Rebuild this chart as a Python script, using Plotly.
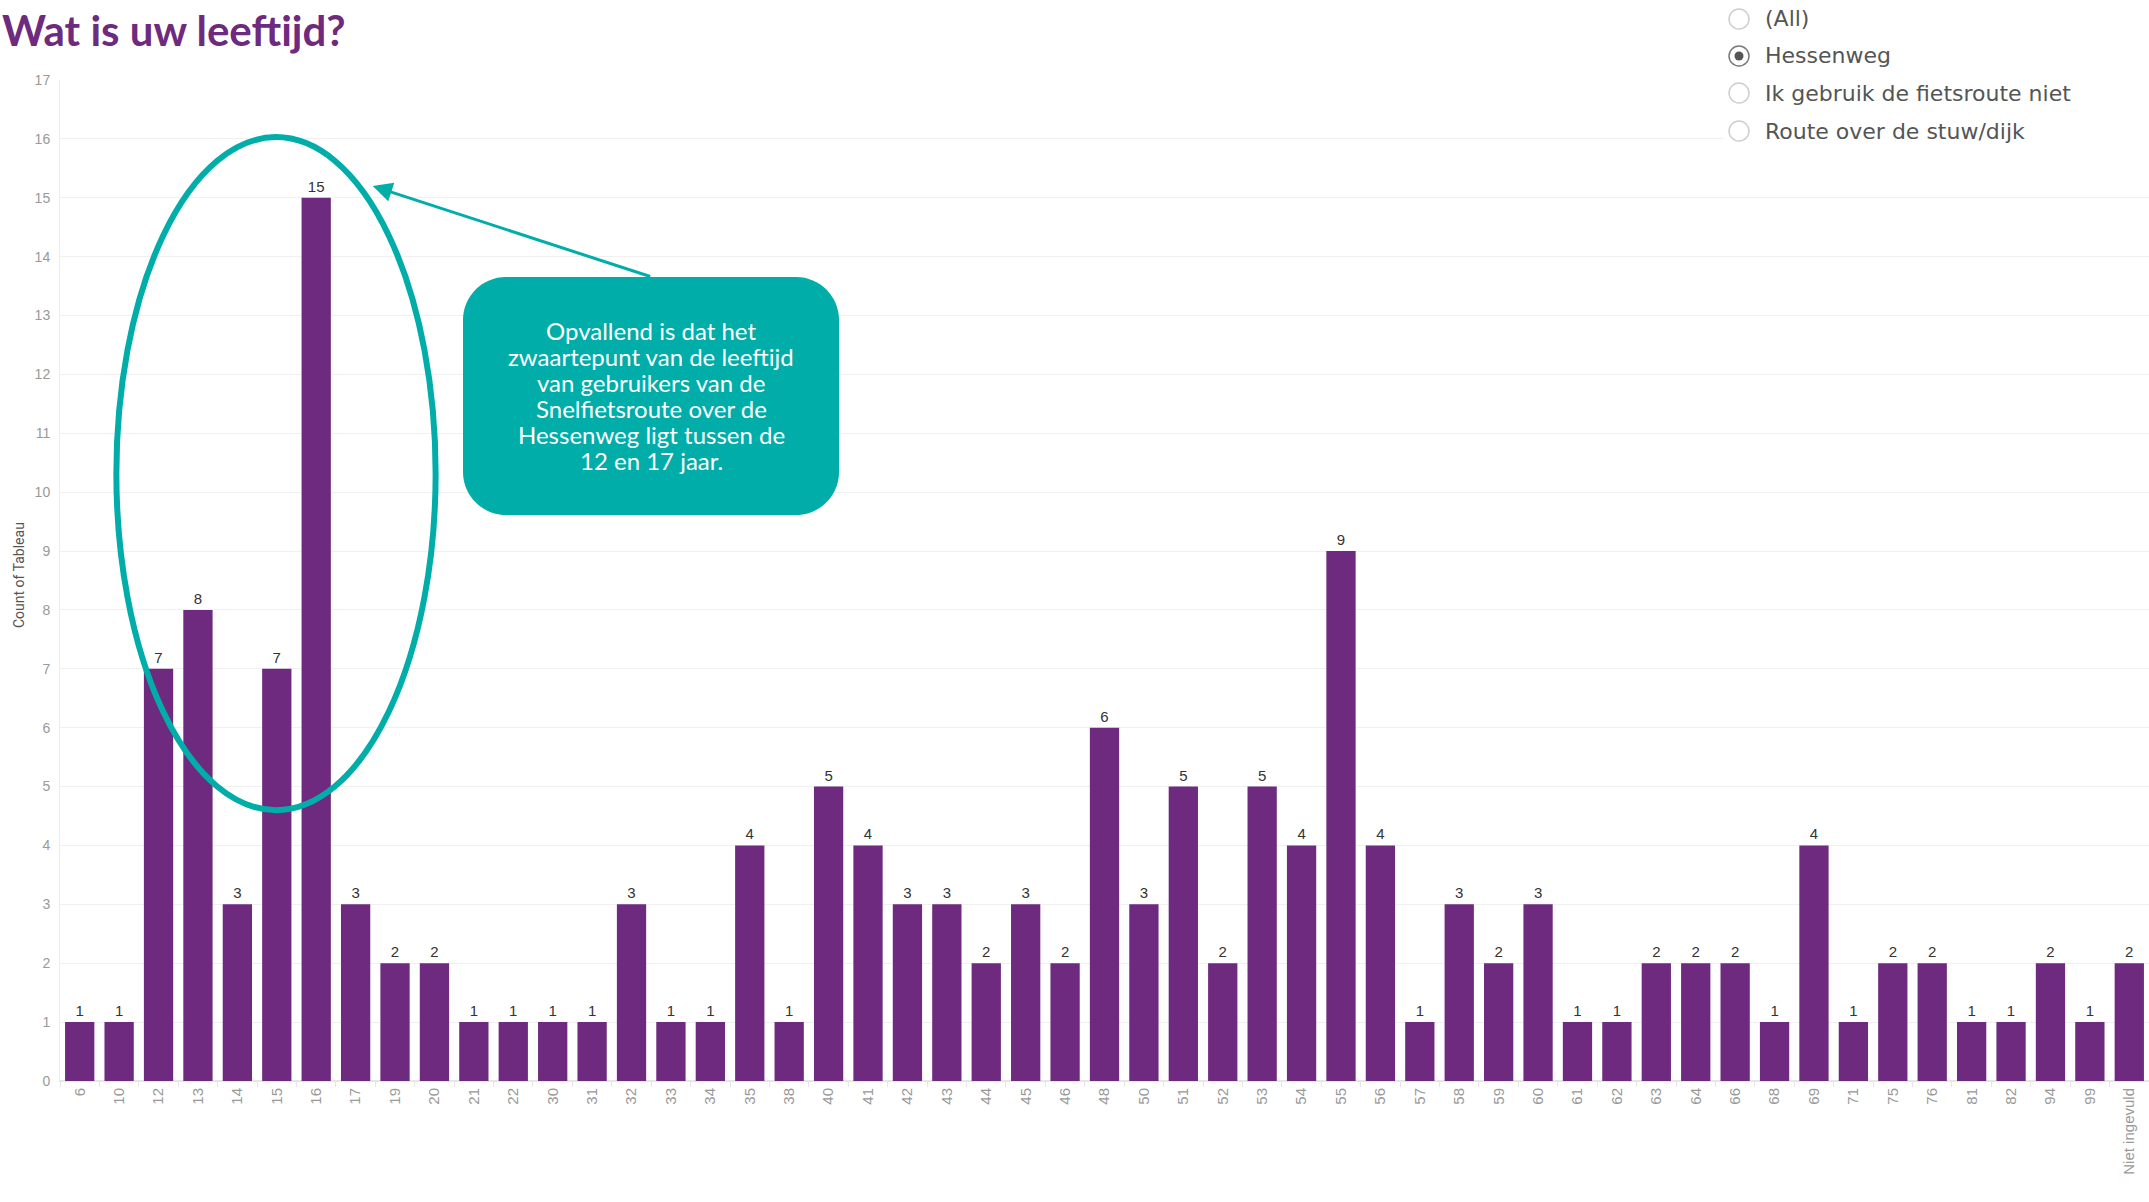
import plotly.graph_objects as go

# ---- data ----
ages = ["6", "10", "12", "13", "14", "15", "16", "17", "19", "20", "21", "22", "30", "31",
        "32", "33", "34", "35", "38", "40", "41", "42", "43", "44", "45", "46", "48", "50",
        "51", "52", "53", "54", "55", "56", "57", "58", "59", "60", "61", "62", "63", "64",
        "66", "68", "69", "71", "75", "76", "81", "82", "94", "99", "Niet ingevuld"]
counts = [1, 1, 7, 8, 3, 7, 15, 3, 2, 2, 1, 1, 1, 1,
          3, 1, 1, 4, 1, 5, 4, 3, 3, 2, 3, 2, 6, 3,
          5, 2, 5, 4, 9, 4, 1, 3, 2, 3, 1, 1, 2, 2,
          2, 1, 4, 1, 2, 2, 1, 1, 2, 1, 2]
y_ticks = list(range(0, 18))
filter_options = ["(All)", "Hessenweg", "Ik gebruik de fietsroute niet", "Route over de stuw/dijk"]
selected_option = "Hessenweg"

title_text = "Wat is uw leeftijd?"
y_title = "Count of Tableau"
callout_lines = ["Opvallend is dat het",
                 "zwaartepunt van de leeftijd",
                 "van gebruikers van de",
                 "Snelfietsroute over de",
                 "Hessenweg ligt tussen de",
                 "12 en 17 jaar."]

PURPLE = "#6E2A7E"
TEAL = "#00ADA9"

W, H = 2149, 1202
ML, MR, MT, MB = 60, 0, 80, 121
PW, PH = W - ML - MR, H - MT - MB


def px_x(p):
    return (p - ML) / PW


def px_y(p):
    return (H - MB - p) / PH


fig = go.Figure()
fig.add_trace(go.Bar(
    x=ages, y=counts,
    marker=dict(color=PURPLE, line=dict(width=0)),
    text=[str(c) for c in counts], textposition="outside",
    textfont=dict(family="Arial", size=15, color="#333333"),
    cliponaxis=False,
))

shapes = []
annotations = []

# highlight ellipse around 12-17
shapes.append(dict(type="circle", xref="x", yref="y", x0=0.93, x1=9.03, y0=4.6, y1=16.03,
                   line=dict(color=TEAL, width=6), layer="above"))

# rounded callout box
bw, bh, r = 188, 119, 43
k = 0.552 * r
path = (f"M {-bw + r},{-bh} L {bw - r},{-bh} "
        f"C {bw - r + k},{-bh} {bw},{-bh + r - k} {bw},{-bh + r} "
        f"L {bw},{bh - r} "
        f"C {bw},{bh - r + k} {bw - r + k},{bh} {bw - r},{bh} "
        f"L {-bw + r},{bh} "
        f"C {-bw + r - k},{bh} {-bw},{bh - r + k} {-bw},{bh - r} "
        f"L {-bw},{-bh + r} "
        f"C {-bw},{-bh + r - k} {-bw + r - k},{-bh} {-bw + r},{-bh} Z")
box_cx, box_cy = 651, 396
shapes.append(dict(type="path", xref="paper", yref="paper",
                   xsizemode="pixel", ysizemode="pixel",
                   xanchor=px_x(box_cx), yanchor=px_y(box_cy),
                   path=path, fillcolor=TEAL, line=dict(width=0), layer="above"))

first_line_y, line_gap = 331, 25.8
for i, line in enumerate(callout_lines):
    annotations.append(dict(xref="paper", yref="paper", x=px_x(box_cx),
                            y=px_y(first_line_y + i * line_gap),
                            text=line, showarrow=False, align="center",
                            xanchor="center", yanchor="middle",
                            font=dict(family="Lato", size=24, color="white")))

# arrow from box to ellipse
tip_x, tip_y = 372.7, 186
tail_x, tail_y = 651.7, 277
annotations.append(dict(xref="paper", yref="paper", x=px_x(tip_x), y=px_y(tip_y),
                        ax=tail_x - tip_x, ay=tail_y - tip_y, text="",
                        showarrow=True, arrowhead=2, arrowsize=1.3, arrowwidth=3,
                        arrowcolor=TEAL, standoff=0, startstandoff=0))

# title
annotations.append(dict(xref="paper", yref="paper", x=px_x(0), y=px_y(30.5),
                        text=f"<b>{title_text}</b>", showarrow=False,
                        xanchor="left", yanchor="middle",
                        font=dict(family="Lato", size=42, color=PURPLE)))

# y axis title
annotations.append(dict(xref="paper", yref="paper", x=px_x(19), y=px_y(575),
                        text=y_title, showarrow=False, textangle=-90,
                        xanchor="center", yanchor="middle",
                        font=dict(family="Roboto", size=14, color="#555555")))

# filter (radio list) panel
shapes.append(dict(type="rect", xref="paper", yref="paper",
                   x0=px_x(1723), x1=px_x(2149) + 0.01, y0=px_y(150), y1=px_y(0),
                   fillcolor="white", line=dict(width=0), layer="above"))
circle_x = 1739
row_y = [19, 56, 93, 131]
for opt, ry in zip(filter_options, row_y):
    sel = opt == selected_option
    shapes.append(dict(type="circle", xref="paper", yref="paper",
                       xsizemode="pixel", ysizemode="pixel",
                       xanchor=px_x(circle_x), yanchor=px_y(ry),
                       x0=-10, x1=10, y0=-10, y1=10,
                       fillcolor="white",
                       line=dict(color="#7a7a7a" if sel else "#cfcfcf", width=1.5),
                       layer="above"))
    if sel:
        shapes.append(dict(type="circle", xref="paper", yref="paper",
                           xsizemode="pixel", ysizemode="pixel",
                           xanchor=px_x(circle_x), yanchor=px_y(ry),
                           x0=-4.5, x1=4.5, y0=-4.5, y1=4.5,
                           fillcolor="#555555", line=dict(width=0), layer="above"))
    annotations.append(dict(xref="paper", yref="paper", x=px_x(1763), y=px_y(ry),
                            text=opt, showarrow=False, xanchor="left", yanchor="middle",
                            font=dict(family="DejaVu Sans", size=22, color="#555555")))

fig.update_layout(
    width=W, height=H,
    margin=dict(l=ML, r=MR, t=MT, b=MB, pad=0),
    paper_bgcolor="white", plot_bgcolor="white",
    showlegend=False,
    bargap=0.257,
    font=dict(family="Arial", color="#888888"),
    shapes=shapes,
    annotations=annotations,
    xaxis=dict(type="category", showgrid=False,
               tickangle=-90, tickfont=dict(family="Arial", size=15, color="#999999"),
               ticks="outside", tickson="boundaries", ticklen=5, tickcolor="#e6e6e6",
               showline=True, linecolor="#e6e6e6", linewidth=1,
               range=[-0.5, len(ages) - 0.5]),
    yaxis=dict(range=[0, 17], tickvals=y_ticks, showgrid=True, gridcolor="#f0f0f0",
               gridwidth=1, zeroline=True, zerolinecolor="#e6e6e6",
               showline=True, linecolor="#ececec", linewidth=1,
               ticks="", tickfont=dict(family="Arial", size=14, color="#999999"),
               ticklabelstandoff=6),
)

fig.write_html("out.html",
               config={"displayModeBar": False},
               post_script="document.body.style.margin='0px';document.body.style.overflow='hidden';")
